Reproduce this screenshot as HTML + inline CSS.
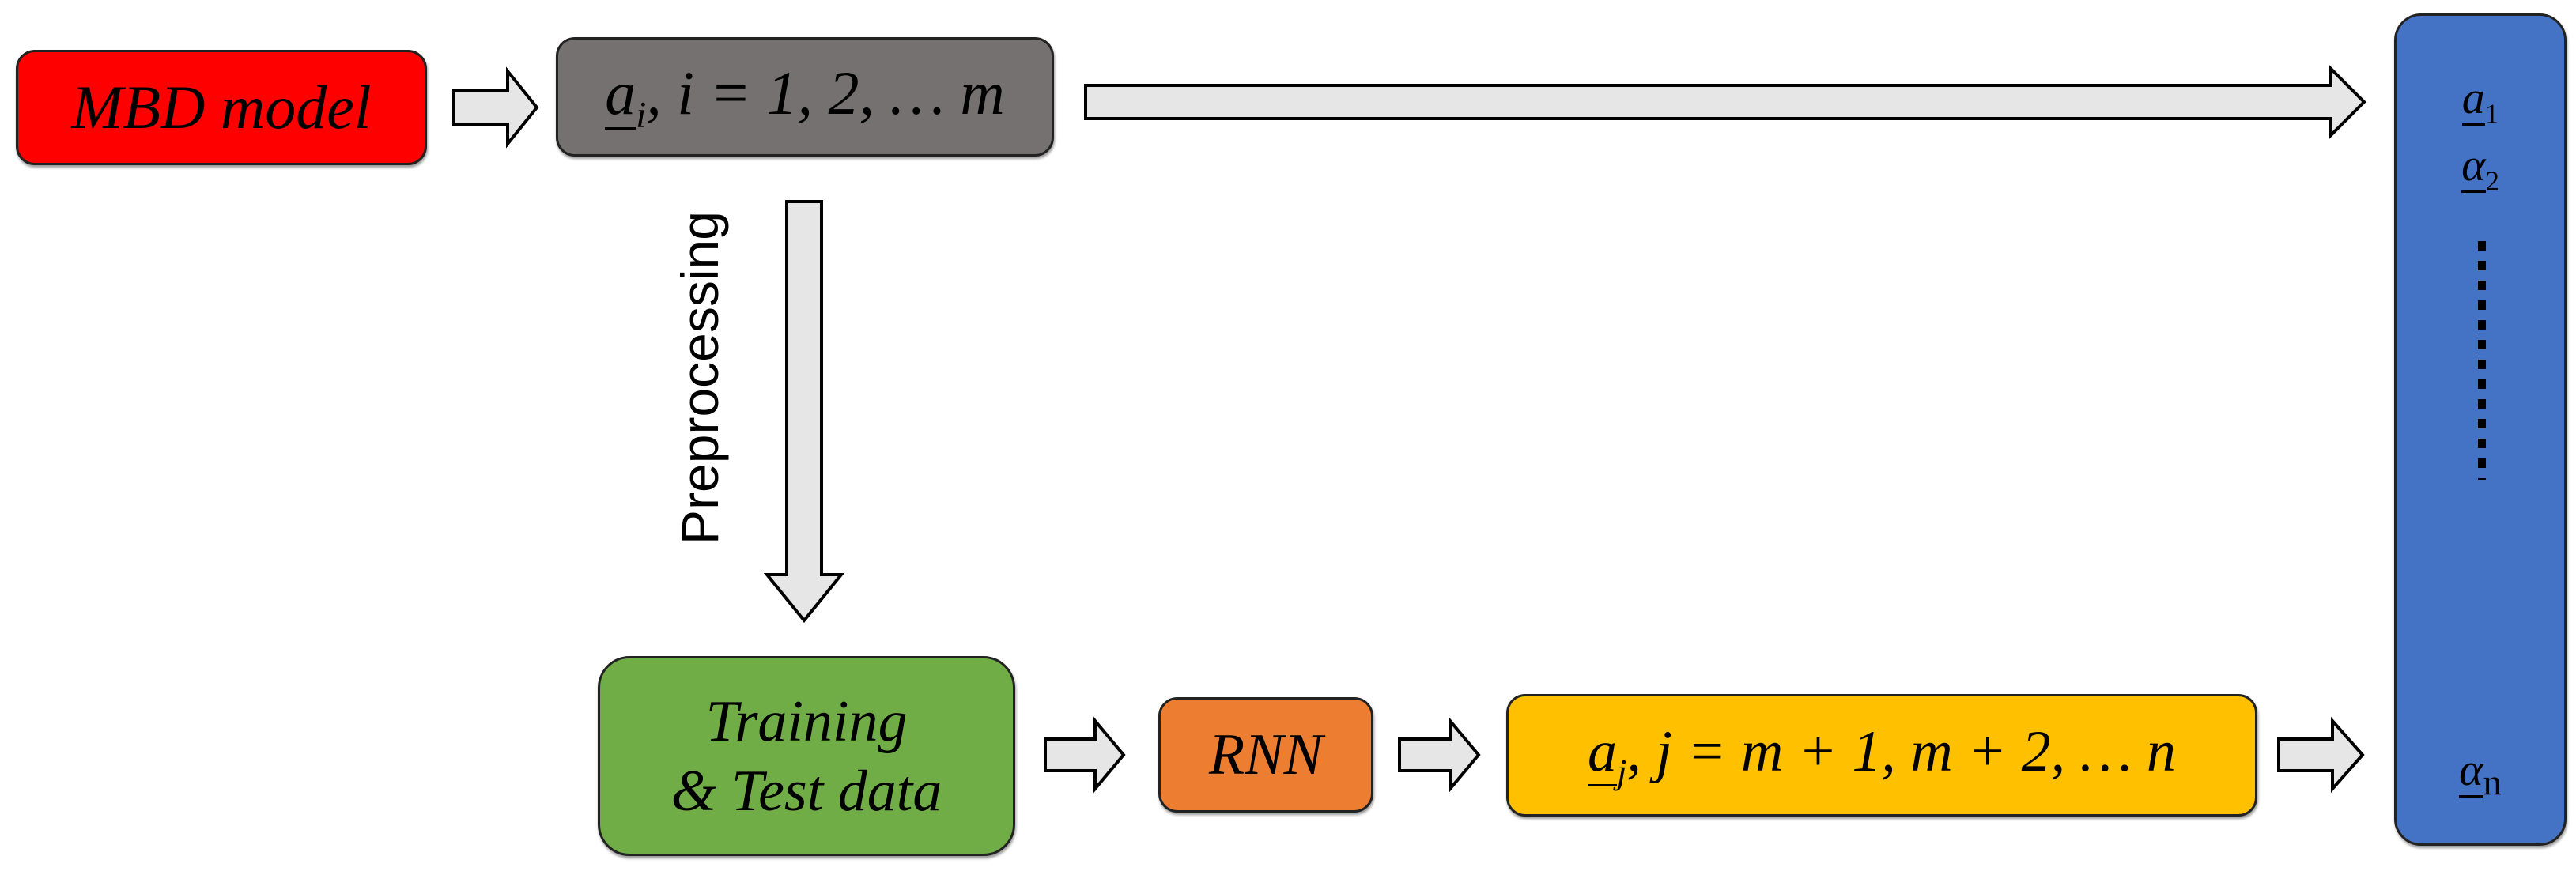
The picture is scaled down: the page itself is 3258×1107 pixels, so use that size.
<!DOCTYPE html>
<html><head><style>
body{margin:0;width:3258px;height:1107px;background:#fff;position:relative;overflow:hidden;font-family:"Liberation Serif",serif}
.b{position:absolute;box-sizing:border-box;border:3px solid #222;border-radius:24px;display:flex;align-items:center;justify-content:center;font-style:italic;color:#000;box-shadow:1px 3px 3px rgba(0,0,0,.4);text-align:center}
svg{position:absolute;left:0;top:0}
u{text-decoration:none;border-bottom:3px solid #000}
sub{font-size:60%}
</style></head><body>
<svg width="3258" height="1107">
<g fill="#e6e6e6" stroke="#000" stroke-width="4">
<polygon points="574,115 642,115 642,90 679,136 642,182 642,157 574,157"/>
<polygon points="1373,108 2948,108 2948,87 2990,129 2948,171 2948,150 1373,150"/>
<polygon points="995,255 1039,255 1039,727 1064,727 1017,785 970,727 995,727"/>
<polygon points="1322,935 1385,935 1385,912 1421,955 1385,998 1385,975 1322,975"/>
<polygon points="1770,935 1834,935 1834,912 1870,955 1834,998 1834,975 1770,975"/>
<polygon points="2882,935 2950,935 2950,912 2988,955 2950,998 2950,975 2882,975"/>
</g>
</svg>
<div class="b" style="left:20px;top:63px;width:520px;height:146px;background:#fe0000;font-size:78px">MBD model</div>
<div class="b" style="left:703px;top:47px;width:630px;height:151px;background:#767171;font-size:78px"><span><u>a</u><sub>i</sub>, i = 1, 2, … m</span></div>
<div style="position:absolute;left:885px;top:478px;transform:translate(-50%,-50%) rotate(-90deg);font-family:'Liberation Sans',sans-serif;font-size:66px;white-space:nowrap">Preprocessing</div>
<div class="b" style="left:756px;top:830px;width:528px;height:253px;background:#70ad47;font-size:74px;line-height:88px;border-radius:40px">Training<br>&amp; Test data</div>
<div class="b" style="left:1465px;top:882px;width:272px;height:146px;background:#ed7d31;font-size:74px">RNN</div>
<div class="b" style="left:1905px;top:878px;width:950px;height:155px;background:#ffc000;font-size:74px"><span><u>a</u><sub>j</sub>, j = m + 1, m + 2, … n</span></div>
<div class="b" style="left:3028px;top:17px;width:218px;height:1053px;background:#4472c4;border-radius:34px;display:block;font-style:normal;font-size:58px">
<div style="position:absolute;left:0;right:0;top:70px"><i><u>a</u></i><sub>1</sub></div>
<div style="position:absolute;left:0;right:0;top:155px"><i><u>α</u></i><sub>2</sub></div>
<div style="position:absolute;left:103px;top:285px;width:10px;height:302px;background:repeating-linear-gradient(#000 0 12px,transparent 12px 25px)"></div>
<div style="position:absolute;left:0;right:0;top:920px"><i><u>α</u></i><sub style="font-size:80%">n</sub></div>
</div>
</body></html>
